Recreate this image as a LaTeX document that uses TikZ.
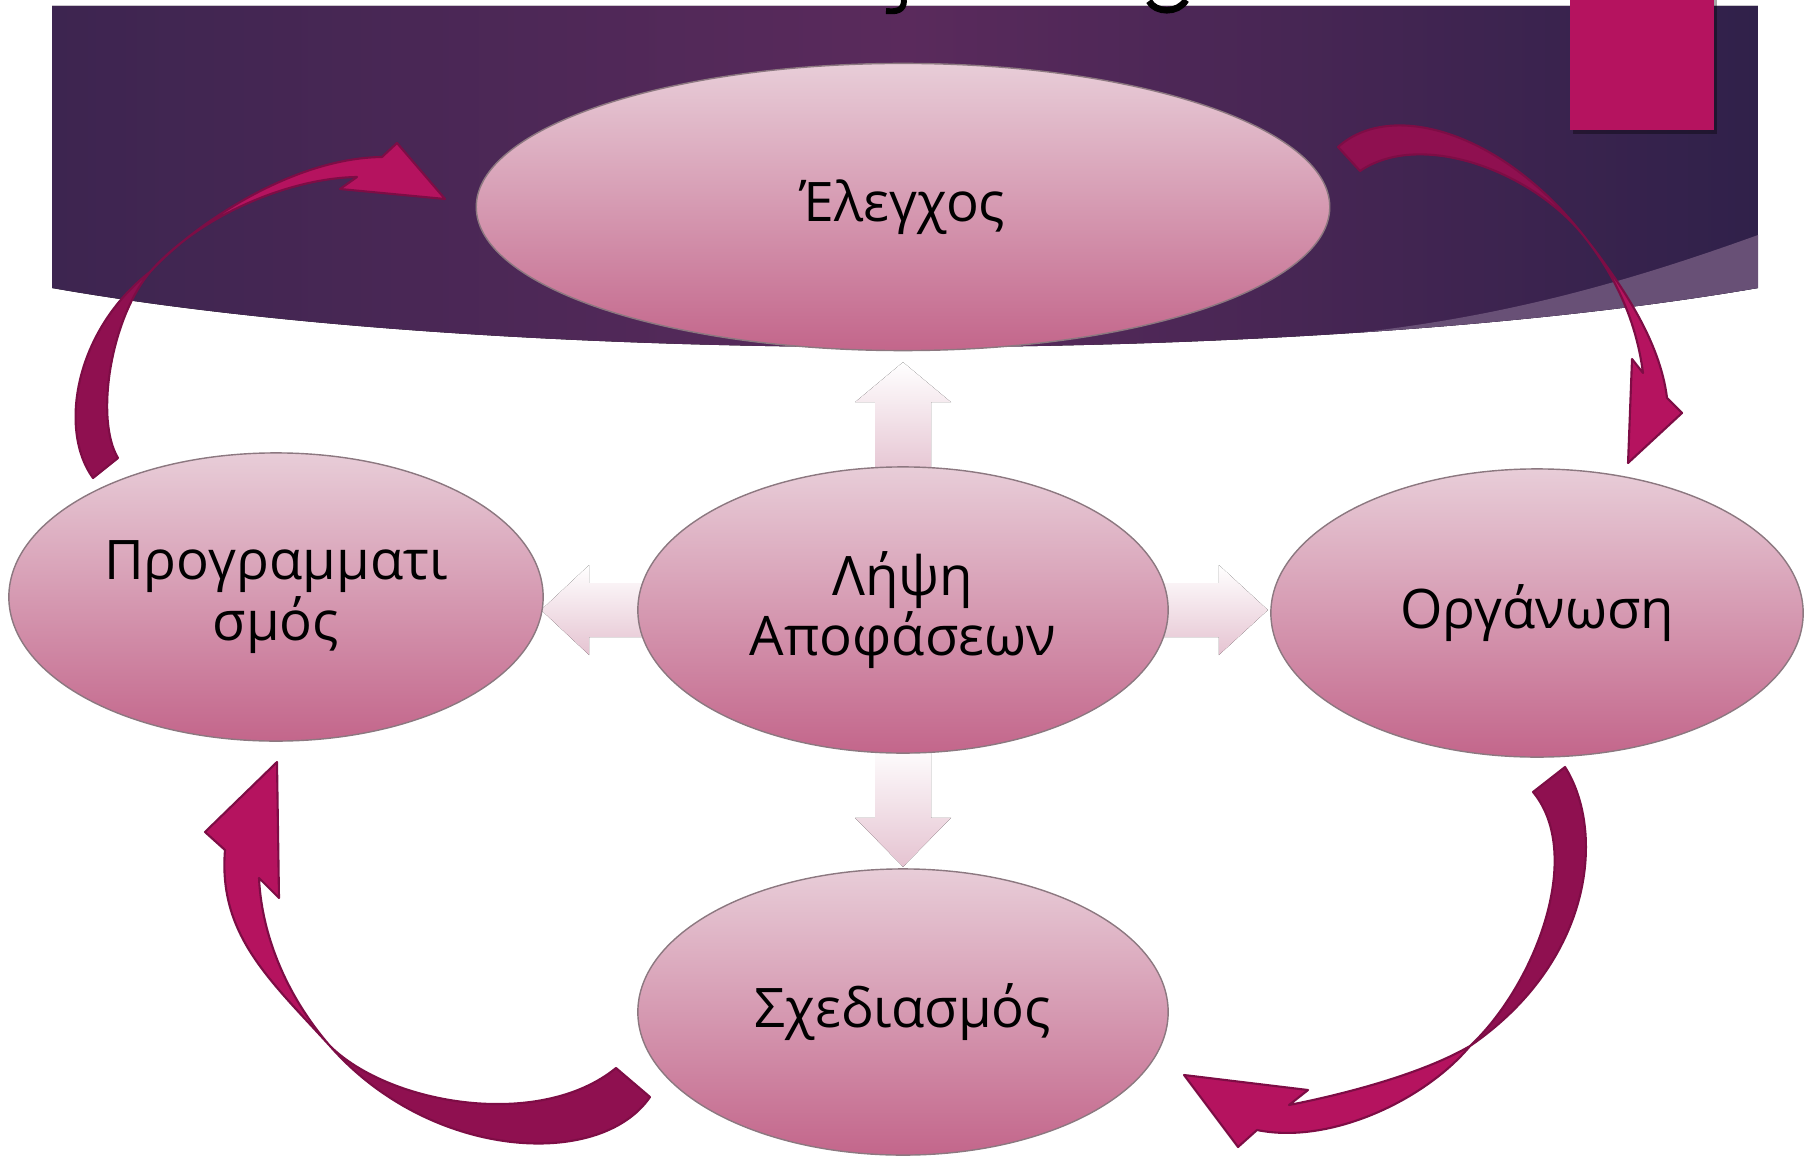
\documentclass[tikz,border=0pt]{standalone}
\usepackage{fontspec}
\setmainfont{Open Sans}
\usepackage{tikz}
\usetikzlibrary{shapes.geometric,backgrounds}

\definecolor{bandleft}{HTML}{3D2550}
\definecolor{bandmid}{HTML}{5A2A5C}
\definecolor{bandright}{HTML}{30214A}
\definecolor{bandlight}{HTML}{685076}
\definecolor{squarepink}{HTML}{B5135F}
\definecolor{ovaltop}{HTML}{E8CDD8}
\definecolor{ovalbottom}{HTML}{C3668B}
\definecolor{ovalline}{HTML}{8C7880}
\definecolor{headpink}{HTML}{B5135F}
\definecolor{tailpink}{HTML}{8F1050}
\definecolor{arrowline}{HTML}{7D0D45}
\definecolor{fadepink}{HTML}{E5C3D1}

\tikzset{
  oval/.style={ellipse, draw=ovalline, line width=0.4pt, top color=ovaltop, bottom color=ovalbottom,
    inner sep=0pt, align=center, font=\fontsize{15.5}{14.5}\selectfont},
  headpart/.style={fill=headpink, draw=arrowline, line width=0.6pt, line join=round},
  tailpart/.style={fill=tailpink, draw=arrowline, line width=0.6pt, line join=round},
  softarrow/.style={top color=white, bottom color=fadepink, draw=none},
}

\begin{document}
\begin{tikzpicture}[x=0.01cm, y=-0.01cm]
    \useasboundingbox (0,0) rectangle (1810,1158);

    %band
    \begin{scope}
      \clip (52,6) -- (1758,6) -- (1758,288) .. controls (1300,367) and (500,367) .. (52,288) -- cycle;
      \fill[left color=bandleft, right color=bandright, middle color=bandmid] (52,0) rectangle (1758,400);
      \fill[bandlight] (1758,235) .. controls (1600,292) and (1450,332) .. (1240,342) -- (1240,400) -- (1800,400) -- (1800,235) -- cycle;
    \end{scope}
    \fill[black, opacity=0.35] (1573,0) rectangle (1717,134);
    \fill[squarepink] (1570,0) rectangle (1714,130);
    \draw[line width=1.7pt] (904,0) .. controls (904,11) and (896,12) .. (886,11);
    \draw[line width=1.9pt] (1149,1) .. controls (1155,13) and (1178,14) .. (1186,0);

    %ovals
    \node[oval, minimum width=8.53cm, minimum height=2.87cm] (ctrl) at (903,207) {Έλεγχος};
    \node[oval, minimum width=5.34cm, minimum height=2.88cm] (prog) at (276,597) {Προγραμματι\\σμός};
    \node[oval, minimum width=5.30cm, minimum height=2.86cm] (dec) at (903,610) {Λήψη\\Αποφάσεων};
    \node[oval, minimum width=5.32cm, minimum height=2.88cm] (org) at (1537,613) {Οργάνωση};
    \node[oval, minimum width=5.30cm, minimum height=2.86cm] (plan) at (903,1012) {Σχεδιασμός};

    %soft arrows out of the centre
    \begin{scope}[on background layer]
      \fill[softarrow, shift={(dec.north)}] (-28,10) -- (-28,-64) -- (-48,-64) -- (0,-104) -- (48,-64) -- (28,-64) -- (28,10) -- cycle;
      \fill[softarrow, shift={(dec.south)}] (-28,-10) -- (-28,64) -- (-48,64) -- (0,113) -- (48,64) -- (28,64) -- (28,-10) -- cycle;
      \fill[softarrow, shift={(dec.west)}] (10,-27) -- (-48,-27) -- (-48,-45) -- (-96,0) -- (-48,45) -- (-48,27) -- (10,27) -- cycle;
      \fill[softarrow, shift={(dec.east)}] (-10,-27) -- (50,-27) -- (50,-45) -- (99,0) -- (50,45) -- (50,27) -- (-10,27) -- cycle;
    \end{scope}

    %curved arrows: dark back of the ribbon, then the bright front with its head
    %prog -> ctrl
    \filldraw[tailpart] (93,478) .. controls (58,430) and (75,330) .. (150,272)
      .. controls (110,320) and (95,420) .. (118,458) -- cycle;
    \filldraw[headpart] (150,272) .. controls (190,228) and (290,158) .. (382,157)
      -- (397,143) -- (445,199) -- (340,189) -- (357,177)
      .. controls (290,178) and (200,215) .. (150,272) -- cycle;

    %ctrl -> org
    \filldraw[tailpart] (1338,147) .. controls (1390,100) and (1500,130) .. (1583,235)
      .. controls (1530,170) and (1420,130) .. (1360,171) -- cycle;
    \filldraw[headpart] (1583,235) .. controls (1620,282) and (1660,340) .. (1667,398)
      -- (1682,413) -- (1628,463) -- (1632,359) -- (1643,373)
      .. controls (1636,320) and (1615,275) .. (1583,235) -- cycle;

    %org -> plan
    \filldraw[tailpart] (1565,767) .. controls (1605,830) and (1595,960) .. (1470,1046)
      .. controls (1535,985) and (1585,855) .. (1533,792) -- cycle;
    \filldraw[headpart] (1470,1046) .. controls (1425,1100) and (1330,1145) .. (1257,1130)
      -- (1238,1147) -- (1184,1075) -- (1308,1090) -- (1289,1105)
      .. controls (1340,1095) and (1420,1075) .. (1470,1046) -- cycle;

    %plan -> prog
    \filldraw[tailpart] (650,1097) .. controls (600,1170) and (430,1160) .. (330,1046)
      .. controls (390,1105) and (540,1130) .. (616,1068) -- cycle;
    \filldraw[headpart] (330,1046) .. controls (270,980) and (218,935) .. (225,850)
      -- (205,832) -- (277,762) -- (279,898) -- (259,878)
      .. controls (262,940) and (290,1000) .. (330,1046) -- cycle;
\end{tikzpicture}
\end{document}
